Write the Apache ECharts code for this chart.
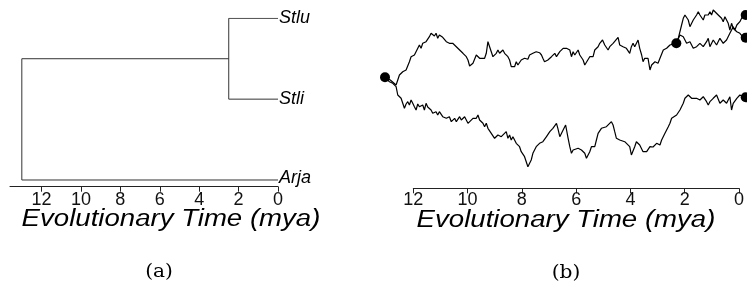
<!DOCTYPE html>
<html>
<head>
<meta charset="utf-8">
<script src="https://cdn.jsdelivr.net/npm/echarts@6/dist/echarts.min.js"></script>
<style>
  html, body { margin: 0; padding: 0; background: #fff; }
  #chart { width: 747px; height: 287px; }
</style>
</head>
<body>
<div id="chart"></div>
<script>
// (a) tree
const tipNames = ['Stlu', 'Stli', 'Arja'];
const tipRows = [3, 2, 1];
const rootAge = 13.0;
const splitAge = 2.5;
const tickValues = [0, 2, 4, 6, 8, 10, 12];

// (b) simulated trait paths, [mya, trait]
const stemWalk = [
  [13.00,0.00],[12.81,-0.27],[12.60,-0.77],[12.48,0.23],[12.36,0.56],[12.24,0.73],[12.12,1.56],[12.06,2.06],
  [11.94,2.23],[11.76,3.23],[11.70,2.90],[11.64,3.40],[11.52,3.56],[11.46,3.73],[11.40,4.06],[11.34,4.40],
  [11.28,4.56],[11.22,4.13],[11.16,4.40],[11.10,3.90],[11.04,4.23],[10.92,4.00],[10.79,3.56],[10.68,3.40],
  [10.56,3.40],[10.43,3.06],[10.31,2.73],[10.19,2.40],[10.07,2.06],[10.01,1.73],[9.95,1.13],[9.83,1.40],
  [9.71,2.23],[9.65,2.40],[9.59,1.90],[9.53,1.73],[9.41,1.90],[9.35,2.40],[9.29,3.56],[9.23,3.06],
  [9.17,2.56],[9.11,2.06],[8.99,2.40],[8.93,2.73],[8.87,2.40],[8.81,2.56],[8.75,2.73],[8.69,2.40],
  [8.63,2.56],[8.57,2.06],[8.51,1.73],[8.45,1.06],[8.39,1.23],[8.33,1.06],[8.27,1.56],[8.21,1.23],
  [8.15,1.40],[8.09,1.73],[7.97,1.90],[7.91,2.06],[7.85,1.80],[7.79,2.23],[7.67,2.40],[7.55,2.56],
  [7.43,2.46],[7.36,2.23],[7.31,1.90],[7.25,1.56],[7.13,1.73],[7.06,1.56],[7.00,2.06],[6.95,1.90],
  [6.88,2.40],[6.82,2.06],[6.70,2.56],[6.58,2.90],[6.46,2.90],[6.34,2.73],[6.28,2.06],[6.22,2.56],
  [6.16,2.23],[6.04,2.73],[5.98,2.23],[5.86,1.73],[5.80,1.23],[5.74,1.06],[5.62,2.06],[5.56,2.13],
  [5.50,2.06],[5.44,2.73],[5.32,3.06],[5.26,3.40],[5.20,3.23],[5.16,3.73],[5.08,3.23],[5.02,3.40],
  [4.96,2.73],[4.90,3.06],[4.84,2.90],[4.78,3.40],[4.72,3.56],[4.60,4.00],[4.54,3.23],[4.48,3.40],
  [4.42,3.06],[4.36,3.23],[4.30,2.90],[4.24,3.06],[4.18,2.40],[4.12,3.06],[4.06,3.40],[4.00,3.06],
  [3.88,3.73],[3.82,2.90],[3.75,2.23],[3.70,1.56],[3.64,1.90],[3.57,1.73],[3.52,1.90],[3.45,0.73],
  [3.39,1.23],[3.34,1.23],[3.27,1.56],[3.21,1.56],[3.16,1.40],[3.09,1.90],[3.03,2.06],[2.97,2.73],
  [2.85,2.90],[2.73,3.23],[2.62,3.33],[2.50,3.40]
];
const stluWalk = [
  [2.50,3.40],[2.37,4.23],[2.25,4.06],[2.13,3.40],[2.01,3.56],[1.89,2.90],[1.77,3.06],[1.65,3.40],
  [1.53,3.06],[1.41,3.56],[1.35,3.90],[1.29,3.06],[1.17,3.73],[1.05,3.23],[0.93,3.90],[0.81,3.40],
  [0.69,3.73],[0.57,4.40],[0.45,5.06],[0.39,4.73],[0.32,5.23],[0.21,5.56],[0.09,6.23],[0.00,6.23]
];
const stliWalk = [
  [2.50,3.40],[2.43,3.90],[2.31,5.23],[2.25,5.90],[2.19,6.23],[2.13,6.23],[2.07,5.73],[2.01,5.06],
  [1.95,4.90],[1.89,5.73],[1.77,6.23],[1.71,6.56],[1.65,6.23],[1.59,6.40],[1.53,5.73],[1.47,6.23],
  [1.41,6.06],[1.35,6.23],[1.29,6.56],[1.23,6.23],[1.17,6.73],[1.11,6.56],[0.99,6.23],[0.87,5.90],
  [0.81,5.56],[0.75,6.06],[0.63,5.40],[0.57,4.73],[0.51,5.40],[0.45,4.90],[0.39,5.06],[0.32,4.56],
  [0.21,4.40],[0.09,4.00],[0.00,3.96]
];
const arjaWalk = [
  [13.00,0.00],[12.84,-0.44],[12.72,-0.60],[12.60,-0.94],[12.54,-1.77],[12.42,-2.10],[12.36,-2.60],[12.30,-3.10],
  [12.24,-2.67],[12.18,-2.44],[12.12,-2.77],[12.06,-2.27],[12.00,-2.60],[11.94,-2.94],[11.88,-3.27],[11.82,-2.67],
  [11.76,-2.94],[11.64,-2.77],[11.58,-3.27],[11.52,-2.60],[11.46,-2.97],[11.40,-3.10],[11.34,-3.27],[11.28,-3.60],
  [11.16,-3.44],[11.10,-3.77],[11.04,-3.44],[10.92,-3.94],[10.79,-4.10],[10.68,-3.94],[10.61,-4.44],[10.49,-4.10],
  [10.43,-4.44],[10.31,-3.94],[10.25,-4.27],[10.19,-4.10],[10.13,-3.94],[10.01,-4.60],[9.95,-4.44],[9.83,-4.10],
  [9.71,-4.10],[9.65,-3.77],[9.59,-4.27],[9.47,-4.60],[9.41,-4.94],[9.35,-4.60],[9.29,-5.10],[9.17,-5.60],
  [9.05,-6.10],[8.93,-5.77],[8.81,-5.94],[8.75,-5.77],[8.63,-5.44],[8.57,-6.10],[8.51,-5.77],[8.45,-6.27],
  [8.39,-5.94],[8.27,-6.60],[8.15,-6.94],[8.09,-7.44],[8.03,-7.27],[7.97,-7.94],[7.85,-8.94],[7.79,-8.77],
  [7.73,-8.27],[7.67,-7.60],[7.55,-6.94],[7.43,-6.60],[7.31,-6.44],[7.18,-5.94],[7.06,-5.44],[6.95,-5.10],
  [6.82,-4.60],[6.77,-5.10],[6.70,-5.94],[6.58,-5.27],[6.49,-4.77],[6.40,-6.10],[6.34,-6.94],[6.28,-7.60],
  [6.22,-7.27],[6.16,-7.44],[6.04,-7.10],[5.92,-7.27],[5.80,-7.60],[5.74,-8.10],[5.62,-7.44],[5.56,-6.94],
  [5.44,-6.94],[5.38,-6.27],[5.32,-5.60],[5.20,-5.10],[5.14,-5.27],[5.02,-4.94],[4.96,-5.10],[4.84,-4.44],
  [4.78,-4.77],[4.72,-5.44],[4.66,-6.10],[4.54,-6.27],[4.48,-6.10],[4.36,-6.44],[4.30,-6.27],[4.18,-6.94],
  [4.12,-7.77],[4.00,-6.94],[3.94,-6.44],[3.82,-6.77],[3.70,-7.44],[3.57,-7.44],[3.45,-6.94],[3.34,-6.97],
  [3.21,-6.60],[3.09,-6.77],[3.03,-6.27],[2.91,-5.60],[2.79,-4.94],[2.73,-4.60],[2.67,-4.10],[2.61,-4.27],
  [2.49,-3.77],[2.37,-3.27],[2.31,-3.10],[2.25,-2.60],[2.19,-2.10],[2.13,-1.94],[2.07,-1.77],[1.95,-2.10],
  [1.89,-2.27],[1.77,-2.10],[1.71,-1.94],[1.65,-2.27],[1.53,-1.94],[1.41,-2.44],[1.35,-2.77],[1.29,-2.44],
  [1.17,-2.10],[1.05,-1.77],[0.93,-2.60],[0.81,-2.27],[0.69,-2.60],[0.57,-1.94],[0.51,-3.27],[0.45,-2.60],
  [0.32,-2.10],[0.21,-1.77],[0.09,-1.94],[0.00,-2.00]
];

const axisTitle = 'Evolutionary Time (mya)';
const panelTags = ['(a)', '(b)'];

const sans = '"Liberation Sans", Arial, sans-serif';
const last = a => a[a.length - 1];
const cladeRow = (tipRows[0] + tipRows[1]) / 2;

const myChart = echarts.init(document.getElementById('chart'), null, { renderer: 'canvas' });

// visible time axis (ticks 0..12)
function timeAxis(grid, max) {
  return {
    type: 'value',
    gridIndex: grid,
    min: 0,
    max: max,
    inverse: true,
    axisLine: { show: true, onZero: false, lineStyle: { color: '#222', width: 1 } },
    axisTick: { show: true, length: 5, customValues: tickValues, lineStyle: { color: '#222' } },
    axisLabel: {
      customValues: tickValues,
      fontSize: 18,
      fontFamily: sans,
      color: '#111',
      margin: grid === 0 ? 4 : 3
    },
    splitLine: { show: false }
  };
}

function walk(data) {
  return {
    type: 'line',
    xAxisIndex: 1,
    yAxisIndex: 1,
    data: data,
    symbol: 'none',
    clip: false,
    lineStyle: { color: '#000', width: 1.2 }
  };
}

function textEl(x, y, text, font, scaleX) {
  return {
    type: 'text',
    x: x,
    y: y,
    scaleX: scaleX,
    style: {
      text: text,
      font: font,
      fill: '#000',
      textAlign: 'center',
      textVerticalAlign: 'middle',
      align: 'center',
      verticalAlign: 'middle'
    }
  };
}

const option = {
  animation: false,
  grid: [
    { left: 10, top: 18.3, width: 268, height: 168.4 },
    // (b) data area, root at 13 mya on the left edge
    { left: 385, top: 0, width: 360.7, height: 188.3 },
    // (b) axis strip, 12..0
    { left: 413.3, top: 0, width: 332.4, height: 188.3 }
  ],
  xAxis: [
    timeAxis(0, 13.6),
    { type: 'value', gridIndex: 1, min: 0, max: rootAge, inverse: true, show: false },
    timeAxis(2, 12)
  ],
  yAxis: [
    { type: 'value', gridIndex: 0, min: 0.917, max: 3, show: false },
    { type: 'value', gridIndex: 1, min: -11.1, max: 7.73, show: false },
    { type: 'value', gridIndex: 2, min: 0, max: 1, show: false }
  ],
  graphic: [
    textEl(171, 220, axisTitle, 'italic 23px ' + sans, 1.2),
    textEl(566, 221, axisTitle, 'italic 23px ' + sans, 1.2),
    textEl(159, 272, panelTags[0], '18px "DejaVu Serif", serif', 1.12),
    textEl(566, 273, panelTags[1], '18px "DejaVu Serif", serif', 1.12)
  ],
  series: [
    // tree: root -> Arja and root -> clade
    {
      type: 'line',
      xAxisIndex: 0,
      yAxisIndex: 0,
      data: [[0, tipRows[2]], [rootAge, tipRows[2]], [rootAge, cladeRow], [splitAge, cladeRow]],
      symbol: 'none',
      lineStyle: { color: '#333', width: 1 }
    },
    // clade -> Stlu, Stli
    {
      type: 'line',
      xAxisIndex: 0,
      yAxisIndex: 0,
      data: [[0, tipRows[0]], [splitAge, tipRows[0]], [splitAge, tipRows[1]], [0, tipRows[1]]],
      symbol: 'none',
      lineStyle: { color: '#333', width: 1 }
    },
    // tip labels
    {
      type: 'scatter',
      xAxisIndex: 0,
      yAxisIndex: 0,
      symbolSize: 0,
      itemStyle: { opacity: 1 },
      data: tipNames.map((n, i) => ({
        name: n,
        value: [0, tipRows[i]],
        label: { offset: i === 2 ? [0, -2] : [0, 0] }
      })),
      label: {
        show: true,
        position: 'right',
        distance: 1,
        formatter: '{b}',
        fontStyle: 'italic',
        fontSize: 18,
        fontFamily: sans,
        color: '#000'
      }
    },
    walk(stemWalk),
    walk(stluWalk),
    walk(stliWalk),
    walk(arjaWalk),
    {
      type: 'scatter',
      xAxisIndex: 1,
      yAxisIndex: 1,
      symbolSize: 10,
      clip: false,
      itemStyle: { color: '#000', opacity: 1 },
      data: [stemWalk[0], last(stemWalk), last(stluWalk), last(stliWalk), last(arjaWalk)]
    }
  ]
};

myChart.setOption(option);
</script>
</body>
</html>
